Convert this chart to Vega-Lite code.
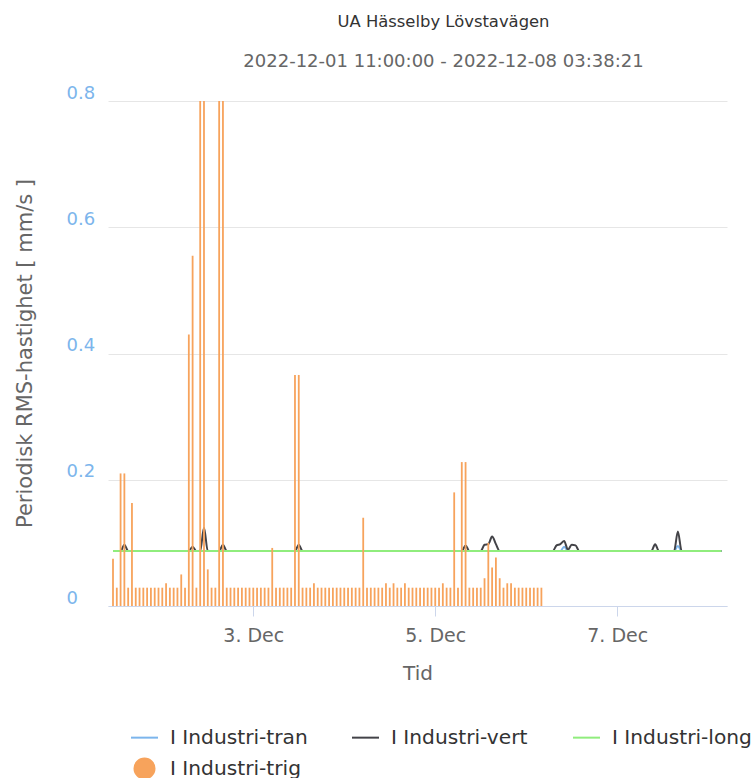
{
  "$schema": "https://vega.github.io/schema/vega-lite/v6.json",
  "width": 619,
  "height": 505,
  "autosize": {"type": "none"},
  "padding": {"left": 108, "top": 101, "right": 28, "bottom": 172},
  "background": "white",
  "config": {"font": "DejaVu Sans", "view": {"stroke": null}},
  "title": {
    "text": "UA Hässelby Lövstavägen",
    "subtitle": "2022-12-01 11:00:00 - 2022-12-08 03:38:21",
    "fontSize": 16.4, "fontWeight": "normal", "color": "#333333",
    "subtitleFontSize": 18, "subtitleColor": "#666666", "subtitlePadding": 23,
    "offset": 13, "dx": 26, "anchor": "middle", "frame": "group"
  },
  "datasets": {
    "trig": [
      {"t": "2022-12-01T11:00", "v": 0.075}, {"t": "2022-12-01T12:00", "v": 0.029}, {"t": "2022-12-01T13:00", "v": 0.21}, {"t": "2022-12-01T14:00", "v": 0.21},
      {"t": "2022-12-01T15:00", "v": 0.029}, {"t": "2022-12-01T16:00", "v": 0.163}, {"t": "2022-12-01T17:00", "v": 0.029}, {"t": "2022-12-01T18:00", "v": 0.029},
      {"t": "2022-12-01T19:00", "v": 0.029}, {"t": "2022-12-01T20:00", "v": 0.029}, {"t": "2022-12-01T21:00", "v": 0.029}, {"t": "2022-12-01T22:00", "v": 0.029},
      {"t": "2022-12-01T23:00", "v": 0.029},
      {"t": "2022-12-02T00:00", "v": 0.029}, {"t": "2022-12-02T01:00", "v": 0.036}, {"t": "2022-12-02T02:00", "v": 0.029}, {"t": "2022-12-02T03:00", "v": 0.029},
      {"t": "2022-12-02T04:00", "v": 0.029}, {"t": "2022-12-02T05:00", "v": 0.05}, {"t": "2022-12-02T06:00", "v": 0.029}, {"t": "2022-12-02T07:00", "v": 0.43},
      {"t": "2022-12-02T08:00", "v": 0.555}, {"t": "2022-12-02T09:00", "v": 0.029}, {"t": "2022-12-02T10:00", "v": 0.8}, {"t": "2022-12-02T11:00", "v": 0.8},
      {"t": "2022-12-02T12:00", "v": 0.058}, {"t": "2022-12-02T13:00", "v": 0.029}, {"t": "2022-12-02T14:00", "v": 0.029}, {"t": "2022-12-02T15:00", "v": 0.8},
      {"t": "2022-12-02T16:00", "v": 0.8}, {"t": "2022-12-02T17:00", "v": 0.029}, {"t": "2022-12-02T18:00", "v": 0.029}, {"t": "2022-12-02T19:00", "v": 0.029},
      {"t": "2022-12-02T20:00", "v": 0.029}, {"t": "2022-12-02T21:00", "v": 0.029}, {"t": "2022-12-02T22:00", "v": 0.029}, {"t": "2022-12-02T23:00", "v": 0.029},
      {"t": "2022-12-03T00:00", "v": 0.029}, {"t": "2022-12-03T01:00", "v": 0.029}, {"t": "2022-12-03T02:00", "v": 0.029}, {"t": "2022-12-03T03:00", "v": 0.029},
      {"t": "2022-12-03T04:00", "v": 0.029}, {"t": "2022-12-03T05:00", "v": 0.092}, {"t": "2022-12-03T06:00", "v": 0.029}, {"t": "2022-12-03T07:00", "v": 0.029},
      {"t": "2022-12-03T08:00", "v": 0.029}, {"t": "2022-12-03T09:00", "v": 0.029}, {"t": "2022-12-03T10:00", "v": 0.029}, {"t": "2022-12-03T11:00", "v": 0.366},
      {"t": "2022-12-03T12:00", "v": 0.366}, {"t": "2022-12-03T13:00", "v": 0.029}, {"t": "2022-12-03T14:00", "v": 0.029}, {"t": "2022-12-03T15:00", "v": 0.029},
      {"t": "2022-12-03T16:00", "v": 0.036}, {"t": "2022-12-03T17:00", "v": 0.029}, {"t": "2022-12-03T18:00", "v": 0.029}, {"t": "2022-12-03T19:00", "v": 0.029},
      {"t": "2022-12-03T20:00", "v": 0.029}, {"t": "2022-12-03T21:00", "v": 0.029}, {"t": "2022-12-03T22:00", "v": 0.029}, {"t": "2022-12-03T23:00", "v": 0.029},
      {"t": "2022-12-04T00:00", "v": 0.029}, {"t": "2022-12-04T01:00", "v": 0.029}, {"t": "2022-12-04T02:00", "v": 0.029}, {"t": "2022-12-04T03:00", "v": 0.029},
      {"t": "2022-12-04T04:00", "v": 0.029}, {"t": "2022-12-04T05:00", "v": 0.14}, {"t": "2022-12-04T06:00", "v": 0.029}, {"t": "2022-12-04T07:00", "v": 0.029},
      {"t": "2022-12-04T08:00", "v": 0.029}, {"t": "2022-12-04T09:00", "v": 0.029}, {"t": "2022-12-04T10:00", "v": 0.029}, {"t": "2022-12-04T11:00", "v": 0.036},
      {"t": "2022-12-04T12:00", "v": 0.029}, {"t": "2022-12-04T13:00", "v": 0.036}, {"t": "2022-12-04T14:00", "v": 0.029}, {"t": "2022-12-04T15:00", "v": 0.029},
      {"t": "2022-12-04T16:00", "v": 0.036}, {"t": "2022-12-04T17:00", "v": 0.029}, {"t": "2022-12-04T18:00", "v": 0.029}, {"t": "2022-12-04T19:00", "v": 0.029},
      {"t": "2022-12-04T20:00", "v": 0.029}, {"t": "2022-12-04T21:00", "v": 0.029}, {"t": "2022-12-04T22:00", "v": 0.029}, {"t": "2022-12-04T23:00", "v": 0.029},
      {"t": "2022-12-05T00:00", "v": 0.029}, {"t": "2022-12-05T01:00", "v": 0.029}, {"t": "2022-12-05T02:00", "v": 0.036}, {"t": "2022-12-05T03:00", "v": 0.029},
      {"t": "2022-12-05T04:00", "v": 0.029}, {"t": "2022-12-05T05:00", "v": 0.18}, {"t": "2022-12-05T06:00", "v": 0.029}, {"t": "2022-12-05T07:00", "v": 0.228},
      {"t": "2022-12-05T08:00", "v": 0.228}, {"t": "2022-12-05T09:00", "v": 0.029}, {"t": "2022-12-05T10:00", "v": 0.029}, {"t": "2022-12-05T11:00", "v": 0.029},
      {"t": "2022-12-05T12:00", "v": 0.029}, {"t": "2022-12-05T13:00", "v": 0.044}, {"t": "2022-12-05T14:00", "v": 0.1}, {"t": "2022-12-05T15:00", "v": 0.061},
      {"t": "2022-12-05T16:00", "v": 0.077}, {"t": "2022-12-05T17:00", "v": 0.044}, {"t": "2022-12-05T18:00", "v": 0.029}, {"t": "2022-12-05T19:00", "v": 0.036},
      {"t": "2022-12-05T20:00", "v": 0.036}, {"t": "2022-12-05T21:00", "v": 0.029}, {"t": "2022-12-05T22:00", "v": 0.029}, {"t": "2022-12-05T23:00", "v": 0.029},
      {"t": "2022-12-06T00:00", "v": 0.029}, {"t": "2022-12-06T01:00", "v": 0.029}, {"t": "2022-12-06T02:00", "v": 0.029}, {"t": "2022-12-06T03:00", "v": 0.029},
      {"t": "2022-12-06T04:00", "v": 0.029}
    ],
    "tran": [
      {"t": "2022-12-01T11:00", "v": 0.087}, {"t": "2022-12-06T09:00", "v": 0.087}, {"t": "2022-12-06T10:00", "v": 0.094}, {"t": "2022-12-06T11:00", "v": 0.087},
      {"t": "2022-12-07T15:00", "v": 0.087}, {"t": "2022-12-07T16:00", "v": 0.095}, {"t": "2022-12-07T17:00", "v": 0.087}, {"t": "2022-12-08T03:30", "v": 0.087}
    ],
    "vert": [
      {"t": "2022-12-01T11:00", "v": 0.087},
      {"t": "2022-12-01T13:00", "v": 0.087}, {"t": "2022-12-01T14:00", "v": 0.097}, {"t": "2022-12-01T15:00", "v": 0.087},
      {"t": "2022-12-02T07:00", "v": 0.087}, {"t": "2022-12-02T08:00", "v": 0.094}, {"t": "2022-12-02T09:00", "v": 0.087},
      {"t": "2022-12-02T10:00", "v": 0.087}, {"t": "2022-12-02T11:00", "v": 0.124}, {"t": "2022-12-02T12:00", "v": 0.087},
      {"t": "2022-12-02T15:00", "v": 0.087}, {"t": "2022-12-02T16:00", "v": 0.097}, {"t": "2022-12-02T17:00", "v": 0.087},
      {"t": "2022-12-03T11:00", "v": 0.087}, {"t": "2022-12-03T12:00", "v": 0.097}, {"t": "2022-12-03T13:00", "v": 0.087},
      {"t": "2022-12-05T07:00", "v": 0.087}, {"t": "2022-12-05T08:00", "v": 0.096}, {"t": "2022-12-05T09:00", "v": 0.087},
      {"t": "2022-12-05T12:00", "v": 0.087}, {"t": "2022-12-05T13:00", "v": 0.097}, {"t": "2022-12-05T14:00", "v": 0.098}, {"t": "2022-12-05T15:00", "v": 0.11},
      {"t": "2022-12-05T16:00", "v": 0.098}, {"t": "2022-12-05T17:00", "v": 0.087},
      {"t": "2022-12-06T07:00", "v": 0.087}, {"t": "2022-12-06T08:00", "v": 0.096}, {"t": "2022-12-06T09:00", "v": 0.098}, {"t": "2022-12-06T10:00", "v": 0.103},
      {"t": "2022-12-06T11:00", "v": 0.089}, {"t": "2022-12-06T12:00", "v": 0.097}, {"t": "2022-12-06T13:00", "v": 0.096}, {"t": "2022-12-06T14:00", "v": 0.087},
      {"t": "2022-12-07T09:00", "v": 0.087}, {"t": "2022-12-07T10:00", "v": 0.098}, {"t": "2022-12-07T11:00", "v": 0.087},
      {"t": "2022-12-07T15:00", "v": 0.087}, {"t": "2022-12-07T16:00", "v": 0.118}, {"t": "2022-12-07T17:00", "v": 0.087},
      {"t": "2022-12-08T03:30", "v": 0.087}
    ],
    "long": [
      {"t": "2022-12-01T11:00", "v": 0.087}, {"t": "2022-12-08T03:30", "v": 0.087}
    ]
  },
  "encoding": {
    "x": {
      "field": "t", "type": "temporal",
      "scale": {"domain": [{"year": 2022, "month": 12, "date": 1, "hours": 11}, {"year": 2022, "month": 12, "date": 8, "hours": 3, "minutes": 38, "seconds": 21}]},
      "axis": {
        "title": "Tid", "titleFontSize": 20, "titleFontWeight": "normal", "titleColor": "#666666", "titlePadding": 18,
        "values": [{"year": 2022, "month": 12, "date": 3}, {"year": 2022, "month": 12, "date": 5}, {"year": 2022, "month": 12, "date": 7}],
        "format": "%-d. %b", "labelFontSize": 19, "labelColor": "#666666", "labelPadding": 10,
        "domainColor": "#ccd6eb", "tickColor": "#ccd6eb", "tickSize": 10, "grid": false
      }
    },
    "y": {
      "field": "v", "type": "quantitative",
      "scale": {"domain": [0, 0.8], "nice": false},
      "axis": {
        "title": "Periodisk RMS-hastighet [ mm/s ]", "titleFontSize": 21, "titleFontWeight": "normal", "titleColor": "#666666",
        "titleX": -83, "titleY": 252, "titleAngle": -90, "titleBaseline": "middle", "titleAlign": "center",
        "values": [0, 0.2, 0.4, 0.6, 0.8], "labelExpr": "datum.value == 0 ? '0' : format(datum.value, '.1f')",
        "labelFontSize": 18, "labelColor": "#7cb5ec", "labelAlign": "left", "labelBaseline": "alphabetic", "labelOffset": -3, "labelPadding": 42,
        "ticks": false, "domain": false, "grid": true, "gridColor": "#e6e6e6"
      }
    }
  },
  "layer": [
    {
      "data": {"name": "tran"},
      "mark": {"type": "line", "strokeWidth": 2, "interpolate": "monotone"},
      "encoding": {
        "color": {
          "datum": "I Industri-tran",
          "scale": {"domain": ["I Industri-tran", "I Industri-vert", "I Industri-long", "I Industri-trig"], "range": ["#7cb5ec", "#434348", "#90ed7d", "#f7a35c"]},
          "legend": {
            "orient": "none", "legendX": 22, "legendY": 620, "direction": "horizontal", "columns": 3, "title": null,
            "labelFontSize": 20.2, "labelColor": "#333333", "labelOffset": 11, "symbolSize": 729, "symbolStrokeWidth": 2,
            "symbolType": "stroke", "columnPadding": 38, "rowPadding": 4, "gridAlign": "all", "padding": 0,
            "encode": {
              "symbols": {
                "update": {
                  "shape": {"signal": "datum.value === 'I Industri-trig' ? 'circle' : 'stroke'"},
                  "size": {"signal": "datum.value === 'I Industri-trig' ? 400 : 729"},
                  "fill": {"signal": "datum.value === 'I Industri-trig' ? '#f7a35c' : 'transparent'"},
                  "stroke": {"signal": "datum.value === 'I Industri-trig' ? 'transparent' : scale('color', datum.value)"},
                  "strokeWidth": {"value": 2},
                  "opacity": {"value": 1}
                }
              }
            }
          }
        }
      }
    },
    {
      "data": {"name": "vert"},
      "mark": {"type": "line", "strokeWidth": 2, "interpolate": "monotone"},
      "encoding": {"color": {"datum": "I Industri-vert"}}
    },
    {
      "data": {"name": "long"},
      "mark": {"type": "line", "strokeWidth": 2},
      "encoding": {"color": {"datum": "I Industri-long"}}
    },
    {
      "data": {"name": "trig"},
      "mark": {"type": "bar", "width": 1.8},
      "encoding": {"color": {"datum": "I Industri-trig"}}
    }
  ]
}
